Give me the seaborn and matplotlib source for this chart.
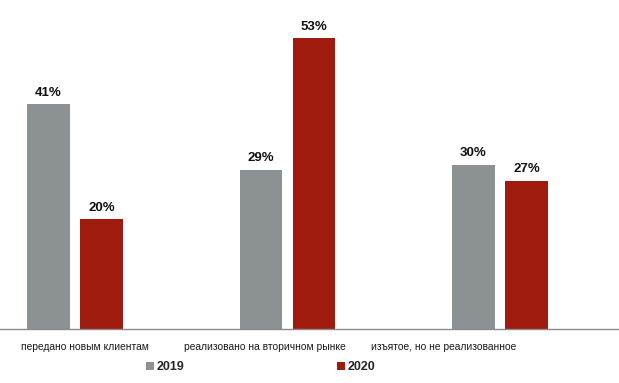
import pandas as pd
import matplotlib.pyplot as plt
import matplotlib.transforms as mtransforms
import seaborn as sns

categories = ["передано новым клиентам", "реализовано на вторичном рынке", "изъятое, но не реализованное"]
years = ["2019", "2020"]
values_2019 = [41, 29, 30]
values_2020 = [20, 53, 27]

df = pd.DataFrame({
    "category": categories * 2,
    "year": [years[0]] * 3 + [years[1]] * 3,
    "value": values_2019 + values_2020,
})

sns.set_style("white")
plt.rcParams["font.family"] = ["Liberation Sans", "DejaVu Sans"]

fig = plt.figure(figsize=(6.19, 3.83), dpi=100)
ax = fig.add_axes([0, 54 / 383, 618 / 619, 329 / 383])

sns.barplot(data=df, x="category", y="value", hue="year",
            palette=["#8c9194", "#9e1b0e"], width=0.5, gap=0.2,
            saturation=1, linewidth=0, edgecolor="none", ax=ax)

for cont in ax.containers:
    ax.bar_label(cont, fmt="%d%%", padding=4, fontsize=9.5, fontweight="bold", color="#111111")

ax.set_ylim(0, 60)
ax.set_xlim(-75 / 212.5, 543 / 212.5)
ax.set_xlabel("")
ax.set_ylabel("")
ax.set_yticks([])
ax.tick_params(axis="x", length=0, pad=9, labelsize=7.4, labelcolor="#1a1a1a")
# excel puts the category labels a bit off the group centres
shifts = [10, -23, -56]
for lab, dx in zip(ax.get_xticklabels(), shifts):
    lab.set_transform(lab.get_transform() + mtransforms.ScaledTranslation(dx / 100, 0, fig.dpi_scale_trans))
for s in ["top", "right", "left"]:
    ax.spines[s].set_visible(False)
ax.spines["bottom"].set_color("#8a8a8a")
ax.spines["bottom"].set_linewidth(1)

ax.legend_.remove()
handles, labels = ax.get_legend_handles_labels()
fig.legend(handles, labels, loc="center", bbox_to_anchor=(261 / 619, 16 / 383),
           ncol=2, frameon=False, handlelength=0.6, handleheight=0.6,
           handletextpad=0.25, columnspacing=12.2,
           prop={"weight": "bold", "size": 9})

fig.savefig("out.png", dpi=100)
